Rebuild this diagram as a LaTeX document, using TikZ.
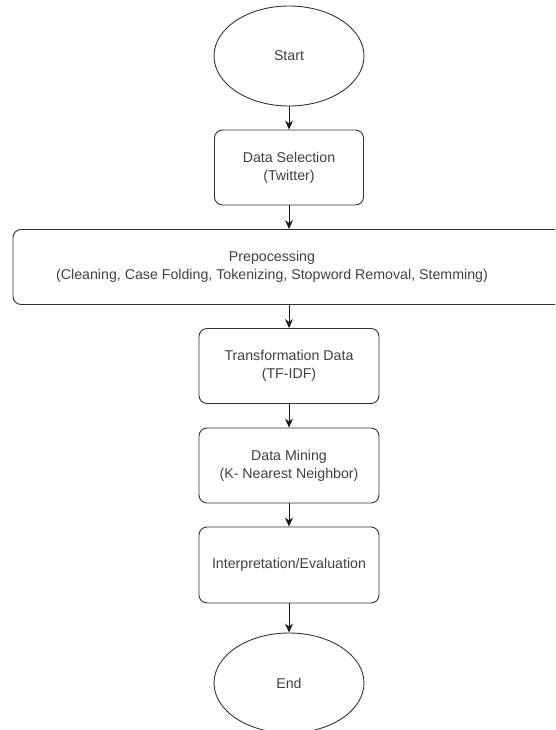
\documentclass[tikz,border=0pt]{standalone}
\usepackage{fontspec}
\setmainfont{Liberation Sans}
\usetikzlibrary{arrows,arrows.meta,shapes,shapes.geometric,positioning}

\begin{document}
\begin{tikzpicture}[x=1pt,y=-1pt,
        every node/.style={font=\fontsize{14.2}{18}\selectfont, text=black!75, align=center},
        oval/.style={draw=black!80, line width=0.9pt, ellipse, minimum width=150pt, minimum height=100pt, inner sep=0pt},
        box/.style={draw=black!80, line width=0.9pt, rounded corners=8pt, minimum height=75pt, inner sep=0pt},
        flow/.style={->, >={Stealth[length=9pt,width=8pt]}, line width=0.9pt, black!90}]
                \clip (0,0) rectangle (555,730);
                \node [oval] (start) at (289,56) {Start};
                \node [box, minimum width=149pt] (selection) at (289,167.5) {Data Selection\\(Twitter)};
                \node [box, minimum width=554pt] (preproc) at (290,267) {};
                \node [xshift=-18pt] (preproctext) at (preproc.center) {Prepocessing\\(Cleaning, Case Folding, Tokenizing, Stopword Removal, Stemming)};
                \node [box, minimum width=180pt] (transform) at (289,366) {Transformation Data\\(TF-IDF)};
                \node [box, minimum width=180pt] (mining) at (289,465.5) {Data Mining\\(K- Nearest Neighbor)};
                \node [box, minimum width=180pt, minimum height=76pt] (interp) at (289,565) {Interpretation/Evaluation};
                \node [oval] (finish) at (289,683) {End};
                \draw [flow] (start) -- (selection);
                \draw [flow] (selection) -- (preproc.north -| selection);
                \draw [flow] (preproc.south -| transform) -- (transform);
                \draw [flow] (transform) -- (mining);
                \draw [flow] (mining) -- (interp);
                \draw [flow] (interp) -- (finish);
            \end{tikzpicture}
\end{document}
